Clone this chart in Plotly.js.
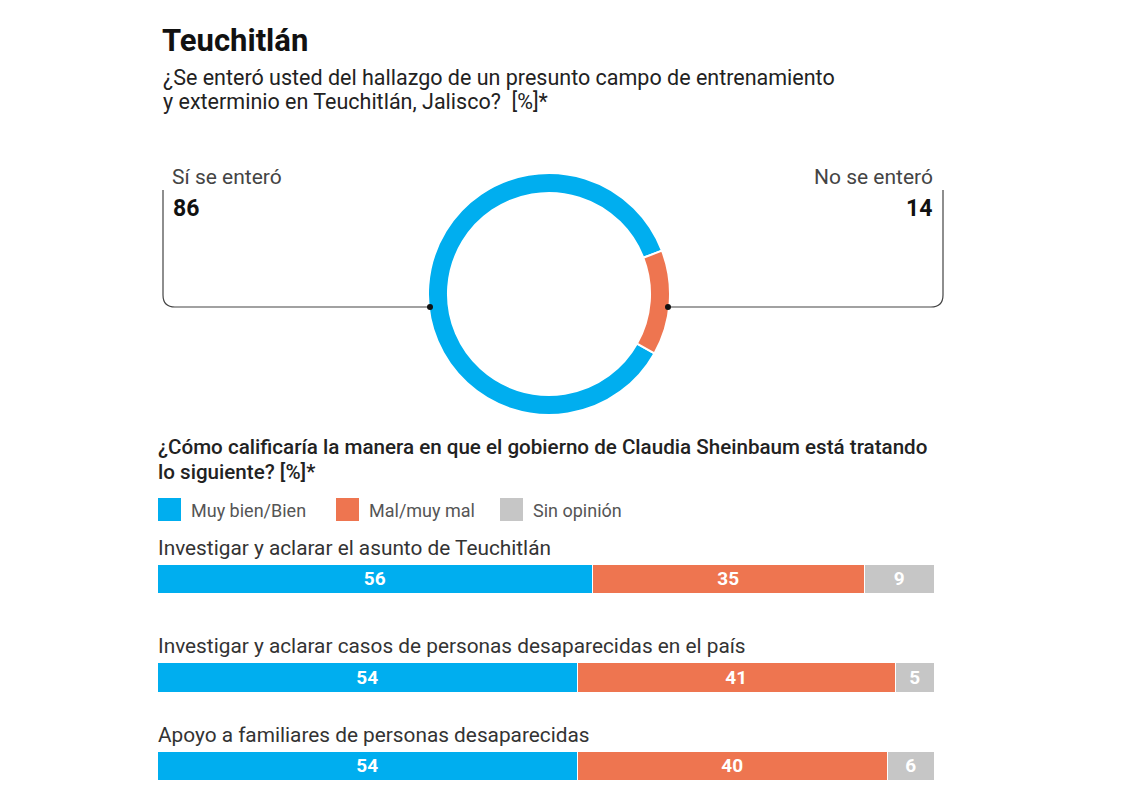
<!DOCTYPE html>
<html>
<head>
<meta charset="utf-8">
<script src="https://cdn.plot.ly/plotly-3.0.1.min.js"></script>
<style>
html,body{margin:0;padding:0;background:#fff;}
#chart{width:1121px;height:810px;}
</style>
</head>
<body>
<div id="chart"></div>
<script>
// ---------- DATA ----------
const donutLabels = ["Sí se enteró", "No se enteró"];
const donutValues = [86, 14];

const rowLabels = [
  "Investigar y aclarar el asunto de Teuchitlán",
  "Investigar y aclarar casos de personas desaparecidas en el país",
  "Apoyo a familiares de personas desaparecidas"
];
const seriesNames = ["Muy bien/Bien", "Mal/muy mal", "Sin opinión"];
const muyBien = [56, 54, 54];
const malMuyMal = [35, 41, 40];
const sinOpinion = [9, 5, 6];

const titleText = "Teuchitlán";
const question1 = ["¿Se enteró usted del hallazgo de un presunto campo de entrenamiento", "y exterminio en Teuchitlán, Jalisco?  [%]*"];
const question2 = ["¿Cómo calificaría la manera en que el gobierno de Claudia Sheinbaum está tratando", "lo siguiente? [%]*"];

// ---------- STYLE ----------
const W = 1121, H = 810;
const COLORS = ["#00AEEF", "#EE7550", "#C6C6C6"];
const FONT = "Roboto, 'Liberation Sans', sans-serif";
const px = x => x / W;
const py = y => 1 - y / H;

const seriesVals = [muyBien, malMuyMal, sinOpinion];

// row vertical placement (pixels: top,bottom of bar; label centre)
const rowBars = [[565, 594], [663, 693], [752, 781]];
const rowLabelY = [548, 646, 735];

const data = [];
data.push({
  type: "pie",
  labels: donutLabels,
  values: donutValues,
  sort: false,
  direction: "clockwise",
  rotation: 119.4,
  hole: 0.835,
  textinfo: "none",
  hoverinfo: "label+value",
  marker: {colors: [COLORS[0], COLORS[1]], line: {color: "#ffffff", width: 2}},
  domain: {x: [px(428), px(670)], y: [py(415), py(173)]},
  showlegend: false
});

rowLabels.forEach((lab, i) => {
  seriesVals.forEach((vals, s) => {
    data.push({
      type: "bar",
      orientation: "h",
      x: [vals[i]],
      y: [lab],
      name: seriesNames[s],
      yaxis: i === 0 ? "y" : "y" + (i + 1),
      xaxis: "x",
      marker: {color: COLORS[s], line: {color: "#ffffff", width: 1.5}},
      text: [String(vals[i])],
      textposition: "inside",
      insidetextanchor: "middle",
      textfont: {color: "#ffffff", size: 19, family: FONT, weight: 700},
      cliponaxis: false,
      showlegend: false,
      hoverinfo: "name+x"
    });
  });
});

const layout = {
  width: W, height: H,
  margin: {l: 0, r: 0, t: 0, b: 0},
  paper_bgcolor: "#ffffff",
  plot_bgcolor: "rgba(0,0,0,0)",
  barmode: "stack",
  bargap: 0,
  showlegend: false,
  font: {family: FONT, color: "#222"},
  uniformtext: {mode: "show", minsize: 12},
  xaxis: {domain: [px(158), px(935)], range: [0, 100], visible: false, fixedrange: true},
  annotations: [],
  shapes: []
};
rowBars.forEach((b, i) => {
  const key = i === 0 ? "yaxis" : "yaxis" + (i + 1);
  layout[key] = {domain: [py(b[1]), py(b[0])], range: [-0.5, 0.5], visible: false, fixedrange: true, anchor: "x"};
  layout.annotations.push({
    text: rowLabels[i], xref: "paper", yref: "paper", x: px(156), y: py(rowLabelY[i]),
    xanchor: "left", yanchor: "middle", showarrow: false,
    font: {size: 20.8, color: "#333", family: FONT}
  });
});

// Titles
layout.annotations.push({
  text: "<b>" + titleText + "</b>", xref: "paper", yref: "paper", x: px(160), y: py(40),
  xanchor: "left", yanchor: "middle", showarrow: false, font: {size: 31, color: "#111", family: FONT}
});
question1.forEach((t, k) => layout.annotations.push({
  text: t, xref: "paper", yref: "paper", x: px(161), y: py(77 + k * 25),
  xanchor: "left", yanchor: "middle", showarrow: false, font: {size: 21.5, color: "#222", family: FONT}
}));
question2.forEach((t, k) => layout.annotations.push({
  text: t, xref: "paper", yref: "paper", x: px(156), y: py(447 + k * 25),
  xanchor: "left", yanchor: "middle", showarrow: false, font: {size: 20.6, color: "#222", family: FONT, weight: 500}
}));

// Donut callouts
layout.annotations.push(
  {text: donutLabels[0], xref: "paper", yref: "paper", x: px(170), y: py(177), xanchor: "left", yanchor: "middle", showarrow: false, font: {size: 21, color: "#444", family: FONT}},
  {text: "<b>" + donutValues[0] + "</b>", xref: "paper", yref: "paper", x: px(171), y: py(208), xanchor: "left", yanchor: "middle", showarrow: false, font: {size: 23, color: "#111", family: FONT}},
  {text: donutLabels[1], xref: "paper", yref: "paper", x: px(935), y: py(177), xanchor: "right", yanchor: "middle", showarrow: false, font: {size: 21, color: "#444", family: FONT}},
  {text: "<b>" + donutValues[1] + "</b>", xref: "paper", yref: "paper", x: px(934), y: py(208), xanchor: "right", yanchor: "middle", showarrow: false, font: {size: 23, color: "#111", family: FONT}}
);
const r = 12;
const leftPath = `M ${px(163)} ${py(190)} L ${px(163)} ${py(307 - r)} Q ${px(163)} ${py(307)} ${px(163 + r)} ${py(307)} L ${px(430)} ${py(307)}`;
const rightPath = `M ${px(943)} ${py(190)} L ${px(943)} ${py(307 - r)} Q ${px(943)} ${py(307)} ${px(943 - r)} ${py(307)} L ${px(668)} ${py(307)}`;
layout.shapes.push(
  {type: "path", xref: "paper", yref: "paper", path: leftPath, line: {color: "#444", width: 1.2}},
  {type: "path", xref: "paper", yref: "paper", path: rightPath, line: {color: "#444", width: 1.2}},
  {type: "circle", xref: "paper", yref: "paper", x0: px(427), x1: px(433), y0: py(310), y1: py(304), fillcolor: "#111", line: {width: 0}},
  {type: "circle", xref: "paper", yref: "paper", x0: px(665), x1: px(671), y0: py(310), y1: py(304), fillcolor: "#111", line: {width: 0}}
);

// Custom legend
const legendX = [158, 336, 500];
seriesNames.forEach((n, s) => {
  layout.shapes.push({type: "rect", xref: "paper", yref: "paper",
    x0: px(legendX[s]), x1: px(legendX[s] + 23), y0: py(521), y1: py(498),
    fillcolor: COLORS[s], line: {width: 0}});
  layout.annotations.push({text: n, xref: "paper", yref: "paper", x: px(legendX[s] + 31), y: py(510),
    xanchor: "left", yanchor: "middle", showarrow: false, font: {size: 18, color: "#555", family: FONT}});
});

Plotly.newPlot("chart", data, layout, {displayModeBar: false, staticPlot: false});
</script>
</body>
</html>
